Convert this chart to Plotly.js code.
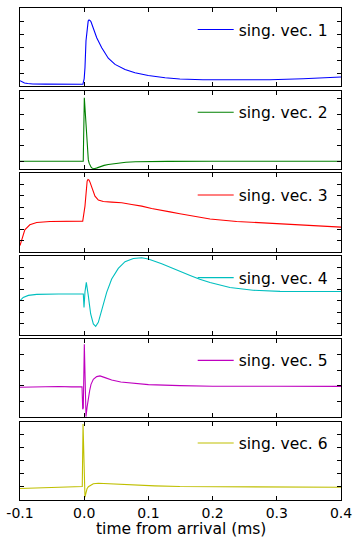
<!DOCTYPE html>
<html><head><meta charset="utf-8">
<script src="https://cdn.plot.ly/plotly-3.0.1.min.js"></script>
<style>html,body{margin:0;padding:0;background:#fff;} #chart{width:354px;height:537px;}</style>
</head><body><div id="chart"></div>
<script>
// ---- data (time in ms, singular-vector amplitude) ----
const seriesNames = ['sing. vec. 1','sing. vec. 2','sing. vec. 3','sing. vec. 4','sing. vec. 5','sing. vec. 6'];
const seriesColors = ['#0000ff','#008000','#ff0000','#00bfbf','#bf00bf','#bfbf00'];
const xTickVals = [-0.1, 0.0, 0.1, 0.2, 0.3, 0.4];
const xTickLabels = ['-0.1','0.0','0.1','0.2','0.3','0.4'];
const xTitle = 'time from arrival (ms)';

const x1 = [-0.1,-0.097,-0.093,-0.088,-0.08,-0.06,-0.03,-0.002,0.0,0.0012,0.0028,0.0048,0.0062,0.0075,0.009,0.0106,0.0142,0.0195,0.0273,0.0375,0.048,0.0636,0.0791,0.0998,0.126,0.149,0.185,0.238,0.289,0.341,0.4];
const y1 = [-0.028,-0.033,-0.037,-0.039,-0.0405,-0.0412,-0.0415,-0.0416,-0.02,0.0216,0.1249,0.1873,0.2,0.2041,0.2025,0.1976,0.1746,0.1364,0.0981,0.058,0.0342,0.0151,0.0024,-0.0079,-0.0167,-0.0217,-0.0244,-0.0255,-0.0244,-0.0205,-0.014];

const x2 = [-0.1,-0.05,-0.0015,0.0002,0.0012,0.0023,0.0034,0.0044,0.0054,0.0064,0.0077,0.009,0.0108,0.0126,0.0147,0.0168,0.02,0.0246,0.031,0.0375,0.05,0.065,0.08,0.1,0.13,0.2,0.3,0.4];
const y2 = [0,0,0,0.405,0.33,0.243,0.16,0.094,0.045,0.009,-0.012,-0.029,-0.038,-0.044,-0.046,-0.046,-0.042,-0.034,-0.026,-0.02,-0.012,-0.006,-0.003,-0.0015,-0.0005,0,0,0];

const x3 = [-0.1,-0.0976,-0.0925,-0.0847,-0.074,-0.0533,-0.0273,-0.0023,0.0012,0.0033,0.0046,0.0059,0.0075,0.009,0.0126,0.0168,0.022,0.0298,0.0428,0.0584,0.074,0.0896,0.105,0.123,0.1336,0.149,0.165,0.196,0.2375,0.289,0.341,0.4];
const y3 = [-0.222,-0.196,-0.1515,-0.129,-0.1189,-0.1144,-0.112,-0.1127,-0.0458,0.0434,0.066,0.0728,0.07,0.0612,0.0282,-0.0012,-0.019,-0.0253,-0.0279,-0.0311,-0.0386,-0.0458,-0.0565,-0.0681,-0.0715,-0.08,-0.089,-0.1037,-0.1144,-0.1216,-0.1292,-0.1397];

const x4 = [-0.1,-0.095,-0.087,-0.074,-0.04,-0.0014,-0.0003,0.0012,0.0033,0.0048,0.0064,0.0083,0.0101,0.0142,0.0179,0.022,0.0273,0.035,0.0428,0.0531,0.0636,0.0765,0.0896,0.0998,0.1207,0.1336,0.15,0.165,0.18,0.196,0.227,0.263,0.305,0.35,0.4];
const y4 = [-0.0988,-0.0841,-0.0752,-0.0707,-0.069,-0.069,-0.1287,-0.06,-0.0172,-0.04,-0.0765,-0.12,-0.1581,-0.2027,-0.2134,-0.1956,-0.1434,-0.0618,-0.0021,0.0452,0.0751,0.0898,0.0929,0.087,0.066,0.05,0.032,0.014,-0.003,-0.018,-0.04,-0.052,-0.057,-0.0575,-0.0575];

const x5 = [-0.1,-0.07,-0.04,-0.02,-0.0034,-0.0023,-0.0014,0.0002,0.0015,0.0028,0.0045,0.0064,0.0085,0.0106,0.0142,0.0195,0.0246,0.0324,0.0428,0.057,0.0791,0.1,0.149,0.2,0.3,0.4];
const y5 = [-0.009,-0.006,-0.004,-0.006,-0.006,-0.149,-0.14,0.265,0.03,-0.1955,-0.135,-0.0745,-0.03,0.0102,0.042,0.0592,0.0637,0.0529,0.0382,0.025,0.0146,0.008,0.002,-0.002,-0.002,-0.003];

const x6 = [-0.1,-0.08,-0.05,-0.02,-0.003,-0.0018,0.0012,0.0028,0.0044,0.0065,0.009,0.0142,0.022,0.0375,0.058,0.078,0.11,0.149,0.2,0.3,0.4];
const y6 = [-0.012,-0.008,-0.004,0.001,0.003,0.482,-0.0786,-0.045,-0.0144,0.002,0.0108,0.0238,0.0284,0.0238,0.0185,0.014,0.008,0.003,0.001,0.0,-0.002];

const xs = [x1,x2,x3,x4,x5,x6];
const ys = [y1,y2,y3,y4,y5,y6];
const yRanges = [[-0.05,0.25],[-0.05,0.45],[-0.25,0.10],[-0.25,0.10],[-0.2,0.3],[-0.1,0.5]];
const yDticks = [0.05,0.1,0.05,0.05,0.1,0.1];

// ---- layout ----
const FONT = 'DejaVu Sans, sans-serif';
const n = 6;
const gap = 0.00873;
const h = (1 - gap*(n-1))/n;
const traces = [];
const layout = {
  width: 354, height: 537,
  margin: {l: 20, r: 13, t: 8, b: 36.5},
  paper_bgcolor: '#fff', plot_bgcolor: '#fff',
  font: {family: FONT, color: '#000', size: 14},
  showlegend: true,
  annotations: [{
    text: xTitle, xref: 'paper', yref: 'paper', x: 0.5, y: -0.0591,
    xanchor: 'center', yanchor: 'middle', showarrow: false, borderpad: 0,
    font: {size: 15.5, family: FONT, color: '#000'}
  }]
};
for (let i = 0; i < n; i++) {
  const k = i === 0 ? '' : String(i+1);
  const top = 1 - i*(h+gap);
  const bot = top - h;
  traces.push({
    x: xs[i], y: ys[i], type: 'scatter', mode: 'lines',
    name: seriesNames[i],
    line: {color: seriesColors[i], width: 1.1},
    xaxis: 'x'+k, yaxis: 'y'+k, legend: 'legend'+k,
    hoverinfo: 'skip'
  });
  layout['xaxis'+k] = {
    domain: [0,1], anchor: 'y'+k, range: [-0.1,0.4],
    tickmode: 'array', tickvals: xTickVals, ticktext: xTickLabels,
    ticks: 'inside', ticklen: 4, tickcolor: '#000', tickwidth: 1,
    showline: true, mirror: 'ticks', linecolor: '#000', linewidth: 1,
    showgrid: false, zeroline: false,
    showticklabels: i === n-1,
    tickfont: {size: 14, family: FONT}
  };
  if (i > 0) layout['xaxis'+k].matches = 'x';
  layout['yaxis'+k] = {
    domain: [Math.max(0,bot), Math.min(1,top)], anchor: 'x'+k,
    range: yRanges[i], tick0: 0, dtick: yDticks[i],
    ticks: 'inside', ticklen: 4, tickcolor: '#000', tickwidth: 1,
    showline: true, mirror: 'ticks', linecolor: '#000', linewidth: 1,
    showgrid: false, zeroline: false, showticklabels: false
  };
  layout['legend'+k] = {
    x: 0.538, xanchor: 'left', y: top - 0.010, yanchor: 'top',
    bgcolor: 'rgba(0,0,0,0)', borderwidth: 0, itemwidth: 36,
    font: {size: 15.5, family: FONT, color: '#000'}
  };
}
Plotly.newPlot('chart', traces, layout, {staticPlot: true, displayModeBar: false});
</script>
</body></html>
